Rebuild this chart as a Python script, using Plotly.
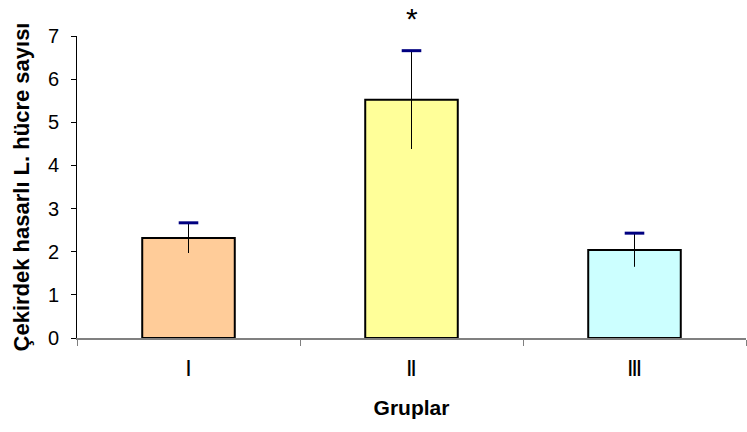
import plotly.graph_objects as go

categories = ["Ⅰ", "Ⅱ", "Ⅲ"]
means = [2.32, 5.52, 2.04]
errors = [0.35, 1.14, 0.39]
bar_colors = ["#FFCC99", "#FFFF99", "#CCFFFF"]
y_ticks = [0, 1, 2, 3, 4, 5, 6, 7]
significance = ["", "*", ""]

fig = go.Figure()
fig.add_trace(go.Bar(
    x=categories, y=means, width=0.415,
    marker=dict(color=bar_colors, line=dict(color="black", width=2)),
    showlegend=False,
))

# error bar stems
ex, ey = [], []
for c, m, e in zip(categories, means, errors):
    ex += [c, c, None]
    ey += [m - e, m + e, None]
fig.add_trace(go.Scatter(x=ex, y=ey, mode="lines",
                         line=dict(color="black", width=1), showlegend=False,
                         hoverinfo="skip"))
# top caps
fig.add_trace(go.Scatter(
    x=categories, y=[m + e for m, e in zip(means, errors)], mode="markers",
    marker=dict(symbol="line-ew", size=14, line=dict(color="#000080", width=3)),
    showlegend=False, hoverinfo="skip"))

for c, s in zip(categories, significance):
    if s:
        fig.add_annotation(x=c, y=7, yref="y", text=s, showarrow=False,
                           yshift=18, font=dict(family="Arial, Liberation Sans", size=30, color="black"))

fig.update_layout(
    width=747, height=432,
    margin=dict(l=77, r=1, t=36, b=94),
    plot_bgcolor="white", paper_bgcolor="white",
    font=dict(family="Arial, Liberation Sans, sans-serif", color="black"),
    bargap=0.58,
)
fig.update_xaxes(
    showline=True, linecolor="#808080", linewidth=1.5,
    ticks="outside", ticklen=6, tickcolor="#808080", tickson="boundaries",
    tickfont=dict(size=22, family="Arial, Liberation Sans, DejaVu Sans"),
    ticklabelstandoff=10,
    title=dict(text="<b>Gruplar</b>", font=dict(size=21), standoff=20),
    showgrid=False, zeroline=False,
)
fig.update_yaxes(
    range=[0, 7], tickvals=y_ticks,
    showline=True, linecolor="black", linewidth=1,
    ticks="outside", ticklen=5, tickcolor="black",
    tickfont=dict(size=20), ticklabelstandoff=8,
    title=dict(text="<b>Çekirdek hasarlı L. hücre sayısı</b>", font=dict(size=22), standoff=12),
    showgrid=False, zeroline=False,
)
fig.write_html("out.html")
